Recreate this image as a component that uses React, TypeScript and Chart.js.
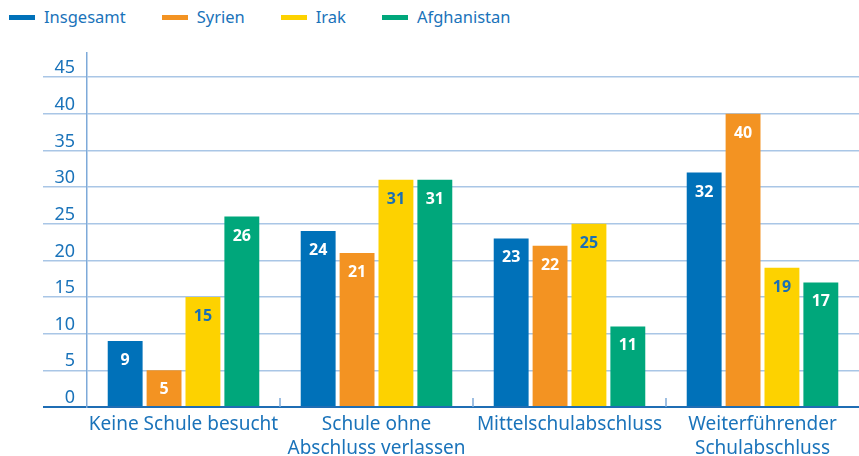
import React, { useEffect, useRef } from "react";
import { Chart, registerables } from "chart.js";

Chart.register(...registerables);

const categories: string[][] = [
  ["Keine Schule besucht"],
  ["Schule ohne", "Abschluss verlassen"],
  ["Mittelschulabschluss"],
  ["Weiterführender", "Schulabschluss"],
];
const seriesNames = ["Insgesamt", "Syrien", "Irak", "Afghanistan"];
const insgesamt = [9, 24, 23, 32];
const syrien = [5, 21, 22, 40];
const irak = [15, 31, 25, 19];
const afghanistan = [26, 31, 11, 17];
const seriesValues = [insgesamt, syrien, irak, afghanistan];
const seriesColors = ["#0071b9", "#f39322", "#fdd200", "#00a77b"];
const valueLabelColors = ["#ffffff", "#ffffff", "#1a6fb5", "#ffffff"];
const yMax = 48.3;
const yStep = 5;

const TEXT_BLUE = "#1a73ba";
const GRID_BLUE = "#a9c6e6";
const AXIS_LIGHT = "#7eaad9";
const AXIS_DARK = "#1f6db4";
const FONT = "'Noto Sans', sans-serif";

const valueLabelPlugin = {
  id: "valueLabels",
  afterDatasetsDraw(chart: any) {
    const ctx = chart.ctx;
    chart.data.datasets.forEach((ds: any, di: number) => {
      const meta = chart.getDatasetMeta(di);
      meta.data.forEach((bar: any, i: number) => {
        ctx.save();
        ctx.font = `bold 16px ${FONT}`;
        ctx.fillStyle = valueLabelColors[di];
        ctx.textAlign = "center";
        ctx.textBaseline = "middle";
        ctx.fillText(String(ds.data[i]), bar.x, bar.y + 19.5);
        ctx.restore();
      });
    });
  },
};

const categoryTickPlugin = {
  id: "categoryTicks",
  afterDraw(chart: any) {
    const xs = chart.scales.x;
    const n = xs.ticks.length;
    const step = xs.width / n;
    const ctx = chart.ctx;
    ctx.save();
    ctx.strokeStyle = AXIS_LIGHT;
    ctx.lineWidth = 1.5;
    for (let i = 1; i < n; i++) {
      const px = xs.left + i * step;
      ctx.beginPath();
      ctx.moveTo(px, xs.top - 9);
      ctx.lineTo(px, xs.top);
      ctx.stroke();
    }
    ctx.restore();
  },
};

export default function App() {
  const canvasRef = useRef<HTMLCanvasElement | null>(null);

  useEffect(() => {
    if (!canvasRef.current) return;
    const chart = new Chart(canvasRef.current, {
      type: "bar",
      data: {
        labels: categories,
        datasets: seriesNames.map((name, i) => ({
          label: name,
          data: seriesValues[i],
          backgroundColor: seriesColors[i],
          borderWidth: 0,
          categoryPercentage: 0.806,
          barPercentage: 0.897,
        })),
      },
      options: {
        animation: false,
        responsive: true,
        maintainAspectRatio: false,
        layout: { padding: { top: 53, left: 43, right: 0, bottom: 0 } },
        plugins: {
          legend: { display: false },
          tooltip: { enabled: false },
        },
        scales: {
          x: {
            afterFit: (scale: any) => {
              scale.height = 49;
            },
            grid: { display: true, drawOnChartArea: false, drawTicks: false, color: "rgba(0,0,0,0)" },
            border: { display: true, color: AXIS_DARK, width: 2 },
            ticks: {
              color: TEXT_BLUE,
              font: { family: FONT, size: 19, lineHeight: "24px" },
              padding: 6,
              autoSkip: false,
              maxRotation: 0,
            },
          },
          y: {
            min: 0,
            max: yMax,
            afterFit: (scale: any) => {
              scale.width = 44;
            },
            grid: {
              color: (c: any) => (c.tick && c.tick.value === 0 ? AXIS_DARK : GRID_BLUE),
              lineWidth: (c: any) => (c.tick && c.tick.value === 0 ? 2 : 1.5),
              tickLength: 44,
              drawTicks: true,
            },
            border: { display: true, color: AXIS_LIGHT, width: 1.5 },
            ticks: {
              stepSize: yStep,
              includeBounds: false,
              color: TEXT_BLUE,
              font: { family: FONT, size: 18 },
              padding: -32,
              labelOffset: -9,
            },
          },
        },
      },
      plugins: [valueLabelPlugin, categoryTickPlugin],
    });
    return () => chart.destroy();
  }, []);

  return (
    <div style={{ position: "fixed", left: 0, top: 0, width: 859, height: 456, background: "#fff" }}>
      <div
        style={{
          position: "absolute",
          left: 9,
          top: 4,
          display: "flex",
          alignItems: "center",
          gap: 36,
          fontFamily: FONT,
          fontSize: 16.5,
          color: TEXT_BLUE,
          lineHeight: "26px",
          whiteSpace: "nowrap",
        }}
      >
        {seriesNames.map((name, i) => (
          <div key={name} style={{ display: "flex", alignItems: "center" }}>
            <span style={{ display: "inline-block", width: 26, height: 5, background: seriesColors[i], marginRight: 9 }} />
            <span>{name}</span>
          </div>
        ))}
      </div>
      <div style={{ position: "absolute", left: 0, top: 0, width: 859, height: 456 }}>
        <canvas ref={canvasRef} />
      </div>
    </div>
  );
}
